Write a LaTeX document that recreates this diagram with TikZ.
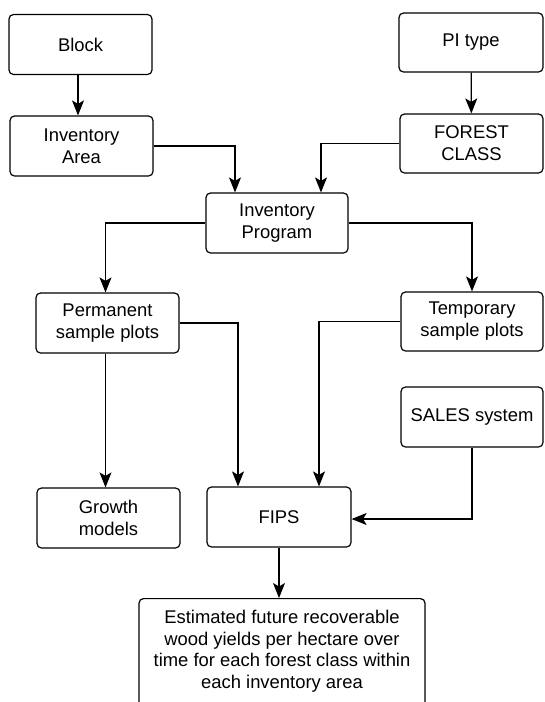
\documentclass[tikz,border=0pt]{standalone}
\usepackage{fontspec}
\setmainfont{Liberation Sans}
\usetikzlibrary{arrows.meta}
\begin{document}
\begin{tikzpicture}[x=1pt,y=-1pt,
  box/.style={draw, line width=1.2pt, rounded corners=4.5pt, inner sep=0pt, align=center,
    font=\fontsize{18.4}{22}\selectfont},
  arr/.style={line width=1.2pt, -{Stealth[length=15pt,width=12pt,inset=3.5pt]}}]
\useasboundingbox (0,0) rectangle (544,702);
\clip (0,0) rectangle (544,702);
\fill[white] (0,0) rectangle (544,702);
% nodes
\node[box, minimum width=143pt, minimum height=60pt] (block) at (80.5,44.5) {Block};
\node[box, minimum width=143pt, minimum height=60pt] (invarea) at (81.5,146) {Inventory\\Area};
\node[box, minimum width=144pt, minimum height=59pt] (pitype) at (471,42.5) {PI type};
\node[box, minimum width=143pt, minimum height=59pt] (forest) at (471.5,143.5) {FOREST\\CLASS};
\node[box, minimum width=142pt, minimum height=60pt] (invprog) at (277,223) {Inventory\\Program};
\node[box, minimum width=143pt, minimum height=60pt] (perm) at (107.5,323) {Permanent\\sample plots};
\node[box, minimum width=142pt, minimum height=59pt] (temp) at (472,321.5) {Temporary\\sample plots};
\node[box, minimum width=142pt, minimum height=60pt] (sales) at (472,417) {SALES system};
\node[box, minimum width=143pt, minimum height=60pt] (growth) at (108.5,518) {Growth\\models};
\node[box, minimum width=144pt, minimum height=60pt] (fips) at (279,517) {FIPS};
\node[box, minimum width=286pt, minimum height=130pt, anchor=north] (est) at (282,598) {};
\node[align=center, anchor=north, inner sep=0pt, font=\fontsize{18.4}{21.7}\selectfont]
  (esttext) at (282,610) {Estimated future recoverable\\wood yields per hectare over\\time for each forest class within\\each inventory area};
% connectors
\draw[arr] (block.south -| 78,0) -- (invarea.north -| 78,0);
\draw[arr] (pitype) -- (forest);
\draw[arr] (invarea.east) -| ([xshift=-42pt]invprog.north);
\draw[arr] (forest.west) -| ([xshift=44pt]invprog.north);
\draw[arr] (invprog.west) -| ([xshift=-2pt]perm.north);
\draw[arr] (invprog.east) -| (temp.north);
\draw[arr] ([xshift=-2pt]perm.south) -- ([xshift=-2pt]perm.south |- growth.north);
\draw[arr] (perm.east) -| ([xshift=-41pt]fips.north);
\draw[arr] (temp.west) -| ([xshift=40pt]fips.north);
\draw[arr] (sales.south) |- ([yshift=-2pt]fips.east);
\draw[arr] (fips.south) -- (est.north -| fips.south);
\end{tikzpicture}
\end{document}
